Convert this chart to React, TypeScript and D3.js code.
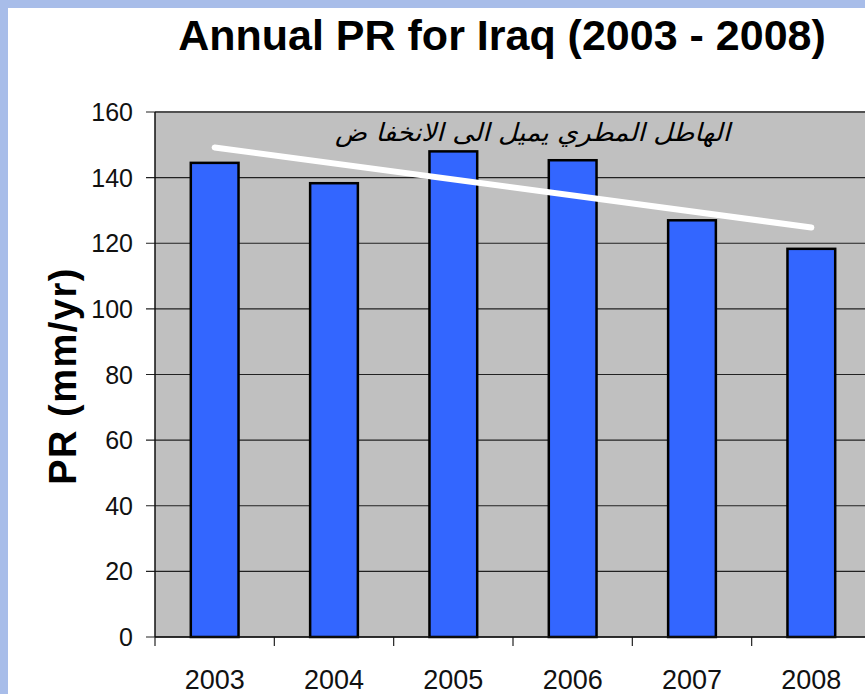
import React from "react";
import * as d3 from "d3";

const years = ["2003", "2004", "2005", "2006", "2007", "2008"];
const prValues = [144.5, 138.3, 148, 145.3, 127, 118.3];
const trendYears = ["2003", "2008"];
const trendValues = [149.2, 124.8];
const yTicks = [0, 20, 40, 60, 80, 100, 120, 140, 160];
const titleText = "Annual PR for Iraq (2003 - 2008)";
const yTitle = "PR (mm/yr)";
const noteText = "الهاطل المطري يميل الى الانخفا ض";

export default function App() {
  const W = 865, H = 694;
  const left = 155, top = 112, bottom = 637, right = 871;
  const x = d3.scaleBand().domain(years).range([left, right]).paddingInner(0.6).paddingOuter(0.3);
  const xb = d3.scaleBand().domain(years).range([left, right]);
  const y = d3.scaleLinear().domain([0, 160]).range([bottom, top]);
  const line = d3.line<number>()
    .x((_, i) => (xb(trendYears[i]) as number) + xb.bandwidth() / 2)
    .y((d) => y(d));
  const font = "'Liberation Sans', Arial, sans-serif";
  return (
    <svg width={W} height={H} style={{ position: "absolute", left: 0, top: 0 }}>
      <rect x={0} y={0} width={W} height={H} fill="#a8bde9" />
      <rect x={8} y={8} width={W} height={H} fill="#ffffff" />
      <text x={502} y={50} textAnchor="middle" fontFamily={font} fontWeight="bold" fontSize={43} fill="#000">{titleText}</text>
      <rect x={left} y={top} width={right - left} height={bottom - top} fill="#c0c0c0" />
      <line x1={left} x2={right} y1={top} y2={top} stroke="#808080" strokeWidth={2} />
      {yTicks.map((t) => (
        <g key={t}>
          <line x1={left - 9} x2={right} y1={y(t)} y2={y(t)} stroke="#222" strokeWidth={1.2} />
          <text x={133} y={y(t) + 9} textAnchor="end" fontFamily={font} fontSize={25} fill="#111">{t}</text>
        </g>
      ))}
      {years.map((yr, i) => (
        <g key={yr}>
          <line x1={xb(yr) as number} x2={xb(yr) as number} y1={bottom} y2={bottom + 9} stroke="#222" strokeWidth={1.2} />
          <text x={(xb(yr) as number) + xb.bandwidth() / 2} y={689} textAnchor="middle" fontFamily={font} fontSize={27} fill="#111">{yr}</text>
          <rect x={x(yr)} y={y(prValues[i])} width={x.bandwidth()} height={bottom - y(prValues[i])} fill="#3366ff" stroke="#000" strokeWidth={2.5} />
        </g>
      ))}
      <line x1={left} x2={left} y1={top} y2={bottom} stroke="#111" strokeWidth={1.5} />
      <line x1={left} x2={right} y1={bottom} y2={bottom} stroke="#111" strokeWidth={1.5} />
      <path d={line(trendValues) as string} stroke="#ffffff" strokeWidth={6} strokeLinecap="round" fill="none" />
      <text x={730} y={141} textAnchor="end" fontFamily="'DejaVu Sans', sans-serif" fontStyle="italic" fontSize={25} textLength={395} lengthAdjust="spacingAndGlyphs" fill="#000">{noteText}</text>
      <text transform={`translate(76,376) rotate(-90)`} textAnchor="middle" fontFamily={font} fontWeight="bold" fontSize={38} letterSpacing={1.5} fill="#000">{yTitle}</text>
    </svg>
  );
}
